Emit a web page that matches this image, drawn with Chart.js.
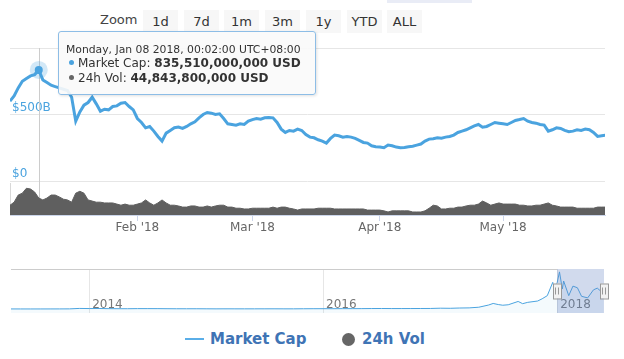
<!DOCTYPE html>
<html>
<head>
<meta charset="utf-8">
<script src="https://cdn.jsdelivr.net/npm/chart.js@4.4.0/dist/chart.umd.min.js"></script>
<style>
  body { margin: 0; background: #fff; font-family: "DejaVu Sans", sans-serif; }
  #wrap { position: relative; width: 624px; height: 359px; overflow: hidden; }
  canvas { position: absolute; left: 0; }
  #main { top: 0; }
  #nav { top: 258px; }
  .strip { position: absolute; left: 387px; top: 0; width: 85px; height: 3px; background: #e9ecf6; }
  .zoom-label { position: absolute; left: 100px; top: 12px; font-size: 13px; color: #444; }
  .btn { position: absolute; top: 10px; width: 35px; height: 23px; line-height: 23px; text-align: center;
         background: #f7f7f7; font-size: 13px; color: #333; }
  .tip { position: absolute; top: 31px; width: 258px; height: 64px; box-sizing: border-box;
         background: rgba(250,250,250,0.9); border: 1px solid #8dbde6; border-radius: 3px;
         box-shadow: 1px 1px 3px rgba(0,0,0,0.12); padding: 11px 8px 0 7px; color: #333; }
  .tip .hdr { font-size: 10.8px; line-height: 13px; }
  .tip .row { font-size: 12px; line-height: 15px; white-space: nowrap; }
  .tip .dot { display: inline-block; width: 5px; height: 5px; border-radius: 50%; margin: 0 4px 2px 3px; vertical-align: middle; }
  .legend { position: absolute; top: 329px; height: 20px; line-height: 20px; font-size: 15px; font-weight: bold; color: #3f74b5; }
  .legend .sym-line { position: absolute; left: 0; top: 9px; width: 19px; height: 2px; background: #5aaee8; }
  .legend .sym-dot { position: absolute; left: 0; top: 4px; width: 13px; height: 13px; border-radius: 50%; background: #666; }
</style>
</head>
<body>
<div id="wrap">
  <div class="strip"></div>
  <div class="zoom-label">Zoom</div>
  <div id="buttons"></div>
  <canvas id="main" width="624" height="245"></canvas>
  <canvas id="nav" width="624" height="62"></canvas>
  <div class="tip" id="tip"></div>
  <div class="legend" style="left:185px;"><span class="sym-line"></span><span style="margin-left:25px">Market Cap</span></div>
  <div class="legend" style="left:342px;"><span class="sym-dot"></span><span style="margin-left:20px">24h Vol</span></div>
</div>
<script>
const DAY = 86400000;
const startDate = "2018-01-01";

// total market cap, billions USD, one value per day from Jan 1 2018
const marketCap = [
  600, 640, 700, 750, 770, 790, 800, 835, 760, 740, 720, 710, 700, 690, 680, 630,
  450, 520, 570, 590, 630, 580, 525, 540, 535, 560, 565, 585, 590, 560, 535,
  470, 440, 400, 410, 375, 335, 300, 360, 380, 400, 405, 395, 410, 430, 445, 475,
  500, 515, 510, 500, 505, 470, 430, 425, 420, 430, 425, 450,
  462, 470, 465, 475, 478, 475, 440, 390, 365, 380, 375, 390, 380, 350, 330, 325,
  310, 300, 285, 320, 345, 340, 330, 335, 330, 320, 305, 290, 285, 265, 258,
  255, 250, 270, 265, 255, 250, 252, 258, 262, 270, 278, 300, 315, 318, 325,
  322, 330, 335, 345, 365, 375, 385, 400, 415, 425, 405, 410, 425, 440, 435,
  430, 425, 440, 455, 462, 470, 450, 440, 435, 425, 420, 375, 385, 400, 395,
  380, 370, 375, 385, 380, 390, 385, 365, 335, 340, 345
];

// 24h volume, billions USD, same days
const volume = [
  26, 34, 53, 58, 71, 69, 61, 45, 40, 45, 53, 53, 48, 42, 40, 34,
  58, 63, 58, 40, 37, 34, 34, 32, 32, 32, 29, 26, 29, 26, 26,
  29, 32, 40, 32, 26, 32, 40, 32, 26, 26, 24, 21, 21, 24, 24,
  21, 21, 24, 21, 24, 26, 26, 21, 21, 18, 18, 16, 16,
  18, 18, 18, 18, 18, 21, 18, 21, 21, 18, 16, 13, 16, 16, 16,
  16, 18, 18, 18, 18, 16, 16, 16, 16, 16, 16, 16, 16, 13, 13, 13,
  13, 11, 8, 11, 11, 11, 11, 11, 8, 8, 8, 11, 18, 26, 24,
  16, 16, 18, 18, 21, 21, 24, 26, 26, 29, 37, 32, 26, 29, 32,
  29, 29, 29, 29, 26, 26, 24, 24, 26, 26, 29, 32, 26, 24, 21,
  21, 21, 21, 18, 18, 18, 18, 18, 21, 21, 21
];

const monthTicks = ["2018-02-01", "2018-03-01", "2018-04-01", "2018-05-01"];
const monthLabels = ["Feb '18", "Mar '18", "Apr '18", "May '18"];
const priceTicks = [0, 500, 1000];
const priceLabels = ["$0", "$500B", ""];

// navigator overview (whole history)
const navDates = [
  "2013-05-01", "2013-06-01", "2013-07-01", "2013-08-01", "2013-09-01", "2013-10-01", "2013-11-01", "2013-12-01",
  "2014-01-01", "2014-02-01", "2014-03-01", "2014-04-01", "2014-05-01", "2014-06-01", "2014-07-01", "2014-08-01",
  "2014-09-01", "2014-10-01", "2014-11-01", "2014-12-01", "2015-01-01", "2015-02-01", "2015-03-01", "2015-04-01",
  "2015-05-01", "2015-06-01", "2015-07-01", "2015-08-01", "2015-09-01", "2015-10-01", "2015-11-01", "2015-12-01",
  "2016-01-01", "2016-02-01", "2016-03-01", "2016-04-01", "2016-05-01", "2016-06-01", "2016-07-01", "2016-08-01",
  "2016-09-01", "2016-10-01", "2016-11-01", "2016-12-01", "2017-01-01", "2017-02-01", "2017-03-01", "2017-04-01",
  "2017-05-01", "2017-06-01", "2017-06-15", "2017-07-01", "2017-07-15", "2017-08-01", "2017-09-01", "2017-09-15",
  "2017-10-01", "2017-11-01", "2017-11-15", "2017-12-01", "2017-12-18", "2017-12-23", "2018-01-01", "2018-01-08",
  "2018-01-17", "2018-01-21", "2018-02-06", "2018-02-19", "2018-03-05", "2018-03-18", "2018-04-06", "2018-04-24",
  "2018-05-06", "2018-05-26"
];
const navValues = [
  1.5, 1.4, 1.0, 1.2, 1.5, 1.8, 3, 13,
  10, 11, 8, 6.5, 6, 8.5, 8.7, 8.3,
  6.5, 5.5, 5, 5.5, 4.5, 3.5, 4, 3.8,
  3.6, 3.6, 4.2, 4.5, 3.7, 3.8, 5.5, 6.6,
  7, 6.5, 8, 8, 8.5, 10.5, 11.5, 10,
  10, 10.5, 11.5, 12, 18, 16, 22, 25,
  40, 90, 125, 100, 85, 95, 170, 120,
  150, 180, 230, 300, 600, 480, 600, 835,
  450, 630, 300, 515, 478, 285, 250, 430,
  470, 345
];
const yearTicks = ["2014-01-01", "2016-01-01", "2018-01-01"];
const yearLabels = ["2014", "2016", "2018"];
const selectionStart = "2018-01-01";

const zoomButtons = ["1d", "7d", "1m", "3m", "1y", "YTD", "ALL"];
const hoverIndex = 7;
const tooltipHeader = "Monday, Jan 08 2018, 00:02:00 UTC+08:00";
const tooltipCap = 835510000000;
const tooltipVol = 44843800000;

const FONT = "DejaVu Sans";
const capColor = "#4aa3df";
const volColor = "#5f5f5f";

// zoom buttons
const btnBox = document.getElementById("buttons");
zoomButtons.forEach((b, i) => {
  const d = document.createElement("div");
  d.className = "btn";
  d.style.left = Math.round(143 + i * 40.7) + "px";
  d.textContent = b;
  btnBox.appendChild(d);
});

const t0 = Date.parse(startDate);
const capPoints = marketCap.map((v, i) => ({ x: t0 + i * DAY, y: v }));
const volPoints = volume.map((v, i) => ({ x: t0 + i * DAY, y: v }));
const monthValues = monthTicks.map((d) => Date.parse(d));

const hoverPlugin = {
  id: "hover",
  beforeDatasetsDraw(chart) {
    const { ctx, chartArea } = chart;
    const x = Math.round(chart.scales.x.getPixelForValue(t0 + hoverIndex * DAY)) + 0.5;
    ctx.save();
    ctx.strokeStyle = "#cccccc";
    ctx.lineWidth = 1;
    ctx.beginPath();
    ctx.moveTo(x, chartArea.top);
    ctx.lineTo(x, chartArea.bottom);
    ctx.stroke();
    ctx.restore();
  },
  afterDatasetsDraw(chart) {
    const { ctx } = chart;
    const pt = chart.getDatasetMeta(0).data[hoverIndex];
    ctx.save();
    ctx.fillStyle = "rgba(74,163,223,0.25)";
    ctx.beginPath();
    ctx.arc(pt.x, pt.y, 9, 0, Math.PI * 2);
    ctx.fill();
    ctx.fillStyle = capColor;
    ctx.beginPath();
    ctx.arc(pt.x, pt.y, 4, 0, Math.PI * 2);
    ctx.fill();
    ctx.restore();
  },
};

const mainChart = new Chart(document.getElementById("main"), {
  type: "line",
  data: {
    datasets: [
      {
        label: "Market Cap",
        data: capPoints,
        yAxisID: "price",
        borderColor: capColor,
        borderWidth: 3,
        pointRadius: 0,
        fill: false,
      },
      {
        label: "24h Vol",
        data: volPoints,
        yAxisID: "vol",
        borderColor: volColor,
        backgroundColor: volColor,
        borderWidth: 1,
        pointRadius: 0,
        fill: "origin",
      },
    ],
  },
  options: {
    responsive: false,
    animation: false,
    layout: { padding: { top: 48, left: 10, right: 19, bottom: 0 } },
    plugins: { legend: { display: false }, tooltip: { enabled: false } },
    scales: {
      x: {
        type: "linear",
        min: t0,
        max: t0 + 144.8 * DAY,
        afterBuildTicks: (s) => { s.ticks = monthValues.map((v) => ({ value: v })); },
        afterFit: (s) => { s.height = 30; },
        grid: { drawOnChartArea: false, tickLength: 6, color: "#ccd6eb" },
        border: { color: "#ccd6eb" },
        ticks: {
          padding: 0,
          color: "#666",
          maxRotation: 0,
          autoSkip: false,
          font: { family: FONT, size: 12 },
          callback: (v) => monthLabels[monthValues.indexOf(v)],
        },
      },
      vol: {
        position: "left",
        stack: "panes",
        stackWeight: 32,
        min: 0,
        max: 85,
        afterFit: (s) => { s.width = 0; },
        grid: { display: false },
        ticks: { display: false },
        border: { display: true, color: "#d8d8d8" },
      },
      price: {
        position: "left",
        stack: "panes",
        stackWeight: 135,
        min: -15,
        max: 1000,
        afterBuildTicks: (s) => { s.ticks = priceTicks.map((v) => ({ value: v })); },
        afterFit: (s) => { s.width = 0; },
        grid: { color: "#e6e6e6", drawTicks: false },
        border: { display: false },
        ticks: {
          mirror: true,
          padding: 2,
          labelOffset: -7,
          color: capColor,
          font: { family: FONT, size: 12 },
          callback: (v) => priceLabels[priceTicks.indexOf(v)],
        },
      },
    },
  },
  plugins: [hoverPlugin],
});

// tooltip box next to the hovered point
const hp = mainChart.getDatasetMeta(0).data[hoverIndex];
const tip = document.getElementById("tip");
tip.style.left = Math.round(hp.x + 19) + "px";
tip.innerHTML =
  '<div class="hdr">' + tooltipHeader + "</div>" +
  '<div class="row"><span class="dot" style="background:' + capColor + '"></span>Market Cap: <b>' +
  tooltipCap.toLocaleString("en-US") + " USD</b></div>" +
  '<div class="row"><span class="dot" style="background:#666"></span>24h Vol: <b>' +
  tooltipVol.toLocaleString("en-US") + " USD</b></div>";

// navigator
const navPoints = navDates.map((d, i) => ({ x: Date.parse(d), y: navValues[i] }));
const yearValues = yearTicks.map((d) => Date.parse(d));

const maskPlugin = {
  id: "mask",
  afterDraw(chart) {
    const { ctx, chartArea } = chart;
    const x1 = Math.round(chart.scales.x.getPixelForValue(Date.parse(selectionStart)));
    const x2 = Math.round(chartArea.right);
    const top = chartArea.top, bottom = chartArea.bottom;
    ctx.save();
    ctx.fillStyle = "rgba(102,133,194,0.3)";
    ctx.fillRect(x1, top, x2 - x1, bottom - top);
    ctx.strokeStyle = "#cccccc";
    ctx.lineWidth = 1;
    ctx.beginPath();
    ctx.moveTo(chartArea.left, top + 0.5);
    ctx.lineTo(x1, top + 0.5);
    ctx.stroke();
    const hy = Math.round((top + bottom) / 2) - 7.5;
    [x1, x2].forEach((x) => {
      ctx.fillStyle = "#f2f2f2";
      ctx.strokeStyle = "#999999";
      ctx.fillRect(x - 4, hy, 8, 15);
      ctx.strokeRect(x - 4 + 0.5, hy + 0.5, 8, 15);
      ctx.beginPath();
      ctx.moveTo(x - 1.5, hy + 4);
      ctx.lineTo(x - 1.5, hy + 11);
      ctx.moveTo(x + 1.5, hy + 4);
      ctx.lineTo(x + 1.5, hy + 11);
      ctx.stroke();
    });
    ctx.restore();
  },
};

new Chart(document.getElementById("nav"), {
  type: "line",
  data: {
    datasets: [
      {
        data: navPoints,
        borderColor: capColor,
        backgroundColor: "rgba(74,163,223,0.06)",
        borderWidth: 1,
        pointRadius: 0,
        fill: "start",
      },
    ],
  },
  options: {
    responsive: false,
    animation: false,
    layout: { padding: { top: 11, left: 11, right: 20, bottom: 7 } },
    plugins: { legend: { display: false }, tooltip: { enabled: false } },
    scales: {
      x: {
        type: "linear",
        min: Date.parse("2013-05-02"),
        max: Date.parse("2018-05-27"),
        afterBuildTicks: (s) => { s.ticks = yearValues.map((v) => ({ value: v })); },
        afterFit: (s) => { s.height = 0; },
        grid: { color: "#e6e6e6", drawTicks: false },
        border: { display: false },
        ticks: {
          mirror: true,
          padding: 1,
          align: "start",
          labelOffset: 3,
          color: "#777",
          maxRotation: 0,
          autoSkip: false,
          font: { family: FONT, size: 12 },
          callback: (v) => yearLabels[yearValues.indexOf(v)],
        },
      },
      y: { display: false, min: -90, max: 900 },
    },
  },
  plugins: [maskPlugin],
});
</script>
</body>
</html>
